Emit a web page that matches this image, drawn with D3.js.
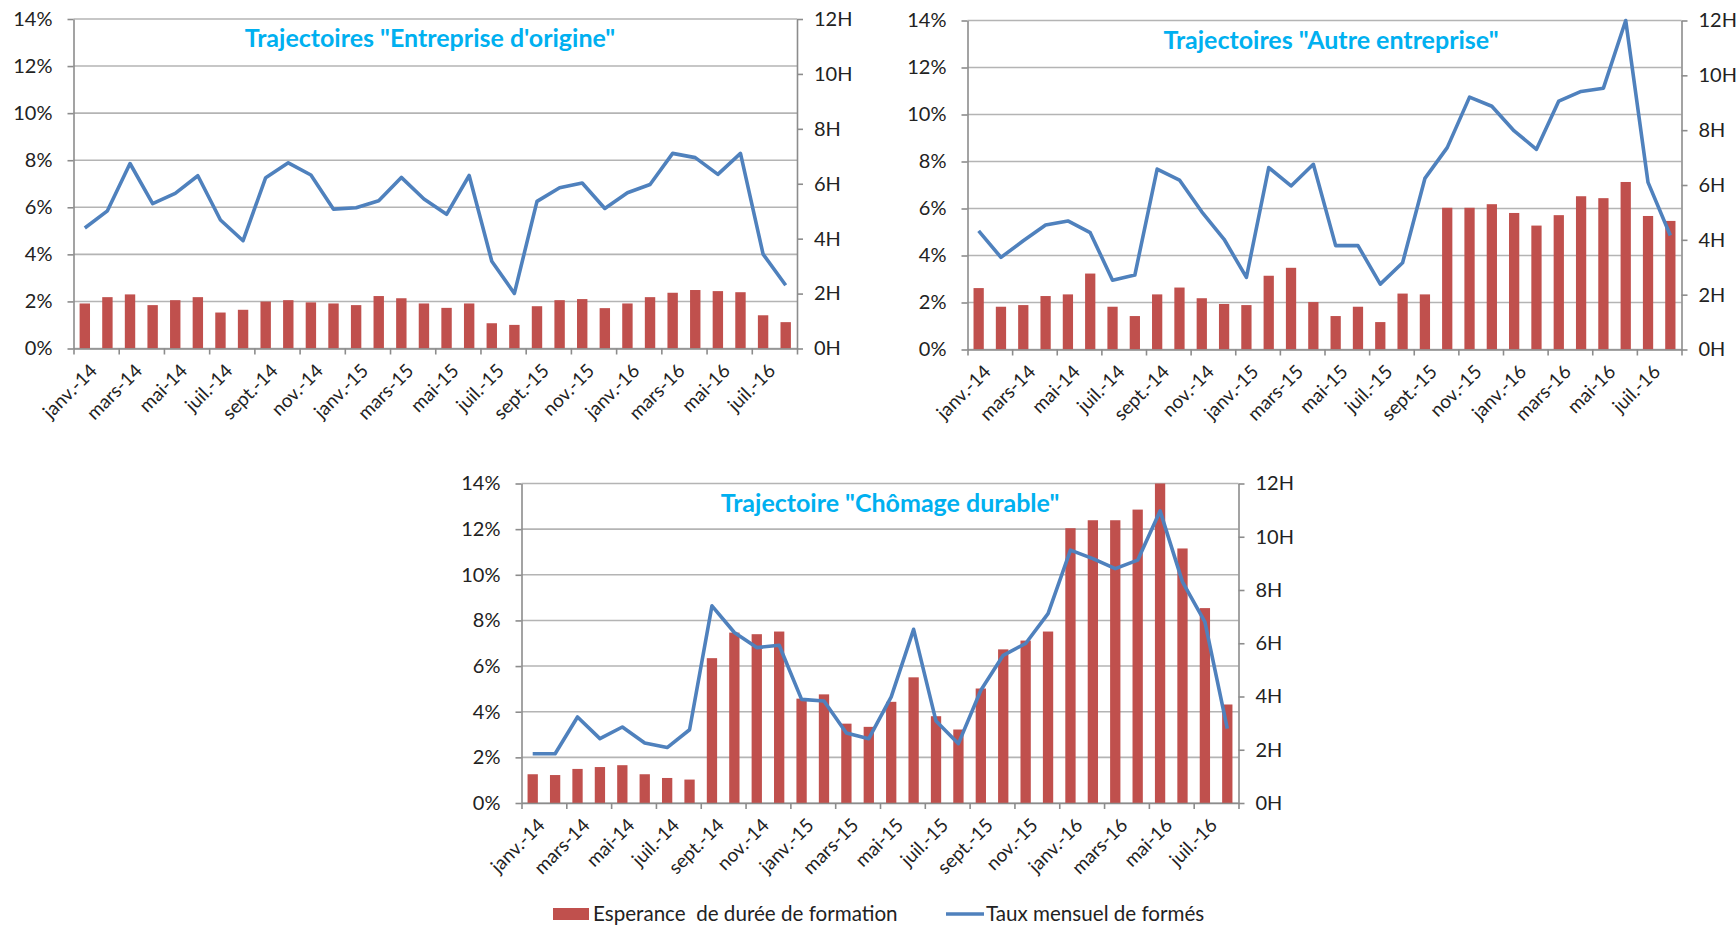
<!DOCTYPE html>
<html>
<head>
<meta charset="utf-8">
<script src="https://cdn.jsdelivr.net/npm/d3@7"></script>
<style>
  body { margin: 0; background: #fff; }
  svg { display: block; font-family: Lato, 'Open Sans', sans-serif; }
  .tick text { fill: #222; }
  .legend text { white-space: pre; }
</style>
</head>
<body>
<svg id="chart" width="1736" height="927"></svg>
<script>
const months = [
  'janv.-14', 'févr.-14', 'mars-14', 'avr.-14', 'mai-14', 'juin-14', 'juil.-14', 'août-14', 'sept.-14', 'oct.-14', 'nov.-14', 'déc.-14',
  'janv.-15', 'févr.-15', 'mars-15', 'avr.-15', 'mai-15', 'juin-15', 'juil.-15', 'août-15', 'sept.-15', 'oct.-15', 'nov.-15', 'déc.-15',
  'janv.-16', 'févr.-16', 'mars-16', 'avr.-16', 'mai-16', 'juin-16', 'juil.-16', 'août-16'
]

const rateTicks = [0, 2, 4, 6, 8, 10, 12, 14]
const hourTicks = [0, 2, 4, 6, 8, 10, 12]

// Esperance de duree de formation (heures)
const origineHours = [1.64, 1.87, 1.97, 1.58, 1.76, 1.87, 1.31, 1.41, 1.71, 1.76, 1.68, 1.64, 1.58, 1.91, 1.83, 1.64,
  1.48, 1.64, 0.92, 0.86, 1.54, 1.76, 1.80, 1.47, 1.64, 1.87, 2.03, 2.13, 2.09, 2.05, 1.21, 0.96]
// Taux mensuel de formes (%)
const origineRate = [5.12, 5.85, 7.86, 6.16, 6.59, 7.34, 5.46, 4.58, 7.26, 7.89, 7.37, 5.92, 5.98, 6.28, 7.27, 6.35,
  5.70, 7.35, 3.71, 2.34, 6.25, 6.83, 7.03, 5.95, 6.62, 6.97, 8.29, 8.11, 7.40, 8.29, 4.01, 2.69]

const autreHours = [2.24, 1.56, 1.62, 1.95, 2.01, 2.77, 1.56, 1.22, 2.01, 2.26, 1.87, 1.66, 1.62, 2.69, 2.98, 1.73,
  1.22, 1.56, 1.00, 2.04, 2.01, 5.17, 5.17, 5.30, 4.98, 4.52, 4.90, 5.59, 5.52, 6.11, 4.87, 4.69]
const autreRate = [5.05, 3.92, 4.63, 5.30, 5.47, 4.97, 2.95, 3.17, 7.68, 7.21, 5.86, 4.69, 3.07, 7.74, 6.96, 7.88,
  4.42, 4.42, 2.78, 3.69, 7.28, 8.59, 10.74, 10.35, 9.30, 8.52, 10.57, 10.98, 11.12, 14.0, 7.11, 4.85]

const chomageHours = [1.08, 1.05, 1.28, 1.35, 1.42, 1.08, 0.94, 0.88, 5.44, 6.40, 6.34, 6.44, 3.92, 4.08, 2.98, 2.86,
  3.80, 4.72, 3.26, 2.76, 4.30, 5.77, 6.10, 6.44, 10.32, 10.62, 10.62, 11.02, 12.0, 9.56, 7.32, 3.70]
const chomageRate = [2.16, 2.16, 3.77, 2.82, 3.33, 2.63, 2.43, 3.21, 8.64, 7.47, 6.81, 6.91, 4.54, 4.47, 3.07, 2.82,
  4.65, 7.61, 3.59, 2.60, 4.94, 6.47, 6.99, 8.30, 11.08, 10.71, 10.27, 10.64, 12.80, 9.69, 7.94, 3.26]

const titles = ['Trajectoires "Entreprise d\'origine"', 'Trajectoires "Autre entreprise"', 'Trajectoire "Chômage durable"']
const legendLabels = ['Esperance  de durée de formation', 'Taux mensuel de formés']

const barColor = '#C0504D'
const lineColor = '#4F81BD'
const titleColor = '#00B0F0'
const gridColor = '#B4B4B4'
const axisColor = '#8C8C8C'

const panels = [
  { title: titles[0], hours: origineHours, rate: origineRate, titleX: 430, box: { left: 73.5, right: 797, top: 19, bottom: 348.5 } },
  { title: titles[1], hours: autreHours, rate: autreRate, titleX: 1331, box: { left: 967.5, right: 1681.5, top: 20.5, bottom: 349.5 } },
  { title: titles[2], hours: chomageHours, rate: chomageRate, titleX: 890, box: { left: 521.5, right: 1238.5, top: 483.5, bottom: 803 } }
]

const svg = d3.select('#chart')

function drawPanel(p) {
  const b = p.box
  const g = svg.append('g')

  const x = d3.scaleBand().domain(months).range([b.left, b.right]).padding(0)
  const xIdx = d3.scaleLinear().domain([0, months.length]).range([b.left, b.right])
  const yRate = d3.scaleLinear().domain([0, 14]).range([b.bottom, b.top])
  const yHours = d3.scaleLinear().domain([0, 12]).range([b.bottom, b.top])

  // gridlines
  g.append('g')
    .selectAll('line')
    .data(rateTicks)
    .enter().append('line')
    .attr('x1', b.left).attr('x2', b.right)
    .attr('y1', d => yRate(d)).attr('y2', d => yRate(d))
    .attr('stroke', gridColor)
    .attr('stroke-width', 1.6)

  // bars
  const bw = x.bandwidth() * 0.46
  g.append('g')
    .selectAll('rect')
    .data(p.hours)
    .enter().append('rect')
    .attr('x', (d, i) => x(months[i]) + (x.bandwidth() - bw) / 2)
    .attr('y', d => yHours(d))
    .attr('width', bw)
    .attr('height', d => yHours(0) - yHours(d))
    .attr('fill', barColor)

  // left axis
  const leftAxis = g.append('g')
    .attr('transform', `translate(${b.left},0)`)
    .call(d3.axisLeft(yRate).tickValues(rateTicks).tickFormat(d => d + '%').tickSize(6).tickPadding(15).tickSizeOuter(0))
  // right axis
  const rightAxis = g.append('g')
    .attr('transform', `translate(${b.right},0)`)
    .call(d3.axisRight(yHours).tickValues(hourTicks).tickFormat(d => d + 'H').tickSize(6).tickPadding(11).tickSizeOuter(0))
  // bottom axis: tick marks every two months
  const bottomAxis = g.append('g')
    .attr('transform', `translate(0,${b.bottom})`)
    .call(d3.axisBottom(xIdx).tickValues(d3.range(0, months.length + 1, 2)).tickFormat('').tickSize(6).tickSizeOuter(0))

  ;[leftAxis, rightAxis, bottomAxis].forEach(a => {
    a.select('.domain').attr('stroke', axisColor).attr('stroke-width', 1.6)
    a.selectAll('.tick line').attr('stroke', axisColor).attr('stroke-width', 1.6)
    a.selectAll('.tick text').attr('font-size', 20).attr('font-family', 'Lato')
  })

  // month labels
  g.append('g')
    .selectAll('text')
    .data(months.filter((m, i) => i % 2 === 0))
    .enter().append('text')
    .attr('transform', d => `translate(${x(d) + x.bandwidth() / 2 + 4},${b.bottom + 14}) rotate(-45)`)
    .attr('text-anchor', 'end')
    .attr('dy', '0.7em')
    .attr('font-size', 19)
    .attr('fill', '#222')
    .text(d => d)

  // line
  const line = d3.line()
    .x((d, i) => x(months[i]) + x.bandwidth() / 2)
    .y(d => yRate(d))
  g.append('path')
    .datum(p.rate)
    .attr('d', line)
    .attr('fill', 'none')
    .attr('stroke', lineColor)
    .attr('stroke-width', 3.6)
    .attr('stroke-linejoin', 'round')

  // title
  g.append('text')
    .attr('x', p.titleX)
    .attr('y', b.top + 28)
    .attr('text-anchor', 'middle')
    .attr('font-size', 25)
    .attr('font-weight', 'bold')
    .attr('fill', titleColor)
    .text(p.title)
}

panels.forEach(drawPanel)

// legend
const legend = svg.append('g').attr('class', 'legend')
legend.append('rect')
  .attr('x', 553).attr('y', 908).attr('width', 36).attr('height', 12)
  .attr('fill', barColor)
legend.append('text')
  .attr('x', 593).attr('y', 921)
  .attr('font-size', 20.6).attr('fill', '#222')
  .text(legendLabels[0])
legend.append('line')
  .attr('x1', 946).attr('x2', 984).attr('y1', 914).attr('y2', 914)
  .attr('stroke', lineColor).attr('stroke-width', 3.6)
legend.append('text')
  .attr('x', 986).attr('y', 921)
  .attr('font-size', 20.6).attr('fill', '#222')
  .text(legendLabels[1])
</script>
</body>
</html>
